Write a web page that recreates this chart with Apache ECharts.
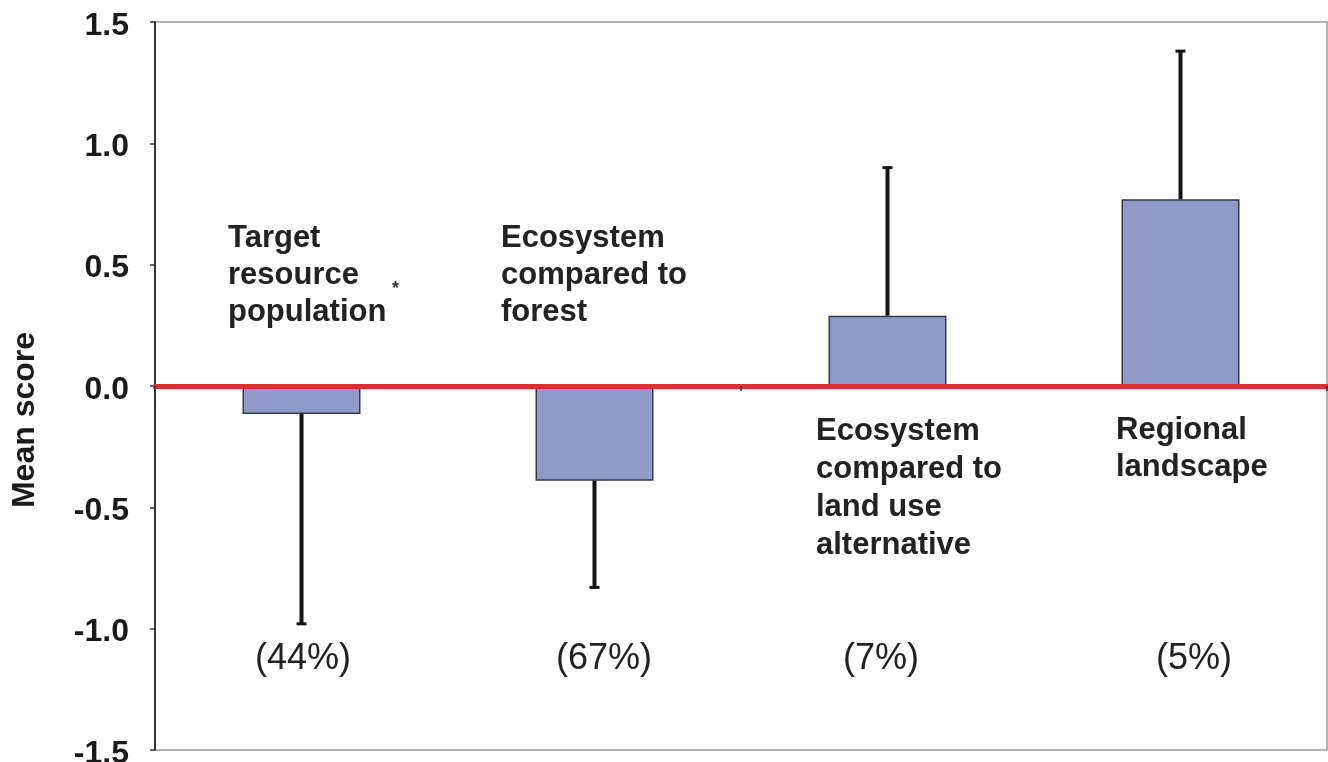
<!DOCTYPE html>
<html>
<head>
<meta charset="utf-8">
<script src="https://cdn.jsdelivr.net/npm/echarts@6/dist/echarts.min.js"></script>
<style>
html,body{margin:0;padding:0;background:#fff;}
#chart{width:1328px;height:762px;}
</style>
</head>
<body>
<div id="chart"></div>
<script>
// Data
var categories = ['Target resource population', 'Ecosystem compared to forest', 'Ecosystem compared to land use alternative', 'Regional landscape'];
var meanScores = [-0.115, -0.39, 0.29, 0.77];
var errorEnds = [-0.98, -0.83, 0.90, 1.38];
var percentLabels = ['(44%)', '(67%)', '(7%)', '(5%)'];
var yTicks = { min: -1.5, max: 1.5, interval: 0.5 };

var chart = echarts.init(document.getElementById('chart'), null, { renderer: 'canvas' });

var FONT = '"Liberation Sans", Arial, Helvetica, sans-serif';

var errData = categories.map(function (c, i) { return [i, meanScores[i], errorEnds[i]]; });

var option = {
  animation: false,
  backgroundColor: '#ffffff',
  grid: {
    left: 155, right: 1, top: 22, bottom: 12,
    containLabel: false,
    outerBoundsMode: 'none',
    show: true, borderColor: '#9a9a9a', borderWidth: 1.5, backgroundColor: 'transparent'
  },
  xAxis: {
    type: 'category',
    data: categories,
    z: 10,
    axisLine: { show: true, onZero: true, lineStyle: { color: '#d83131', width: 5 } },
    axisTick: { show: true, length: 5, lineStyle: { color: '#333', width: 1.5 } },
    axisLabel: { show: false },
    splitLine: { show: false }
  },
  yAxis: {
    type: 'value',
    min: yTicks.min, max: yTicks.max, interval: yTicks.interval,
    axisLine: { show: true, lineStyle: { color: '#333', width: 2 } },
    axisTick: { show: true, length: 5, lineStyle: { color: '#333', width: 1.5 } },
    axisLabel: {
      margin: 26,
      color: '#1a1a1a', fontFamily: FONT, fontWeight: 'bold', fontSize: 32,
      formatter: function (v) { return '{t|' + v.toFixed(1) + '}'; },
      rich: {
        t: { fontFamily: FONT, fontWeight: 'bold', fontSize: 32, color: '#1a1a1a', padding: [8, 0, 0, 0] }
      }
    },
    splitLine: { show: false }
  },
  series: [
    {
      type: 'bar',
      data: meanScores,
      barWidth: 118,
      itemStyle: { color: '#8f9ac8', borderColor: '#34364a', borderWidth: 1.5 },
      z: 2
    },
    {
      type: 'custom',
      data: errData,
      z: 5,
      renderItem: function (params, api) {
        var x = api.value(0);
        var p0 = api.coord([x, api.value(1)]);
        var p1 = api.coord([x, api.value(2)]);
        return {
          type: 'group',
          children: [
            { type: 'line', shape: { x1: p0[0], y1: p0[1], x2: p1[0], y2: p1[1] }, style: { stroke: '#141414', lineWidth: 4 } },
            { type: 'line', shape: { x1: p1[0] - 5, y1: p1[1], x2: p1[0] + 5, y2: p1[1] }, style: { stroke: '#141414', lineWidth: 3 } }
          ]
        };
      }
    }
  ],
  graphic: [
    { type: 'text', x: 25, y: 420, rotation: Math.PI / 2,
      style: { text: 'Mean score', font: 'bold 32px ' + FONT, fill: '#1a1a1a', align: 'center', verticalAlign: 'middle' } },

    { type: 'text', x: 228, y: 275,
      style: { text: 'Target\nresource\npopulation', font: 'bold 31px ' + FONT, lineHeight: 37, fill: '#222', align: 'left', verticalAlign: 'middle' } },
    { type: 'text', x: 392, y: 289,
      style: { text: '*', font: 'bold 18px ' + FONT, fill: '#333', align: 'left', verticalAlign: 'middle' } },
    { type: 'text', x: 501, y: 275,
      style: { text: 'Ecosystem\ncompared to\nforest', font: 'bold 31px ' + FONT, lineHeight: 37, fill: '#222', align: 'left', verticalAlign: 'middle' } },
    { type: 'text', x: 816, y: 488,
      style: { text: 'Ecosystem\ncompared to\nland use\nalternative', font: 'bold 31px ' + FONT, lineHeight: 38, fill: '#222', align: 'left', verticalAlign: 'middle' } },
    { type: 'text', x: 1116, y: 449,
      style: { text: 'Regional\nlandscape', font: 'bold 31px ' + FONT, lineHeight: 37, fill: '#222', align: 'left', verticalAlign: 'middle' } },

    { type: 'text', x: 303, y: 659, style: { text: percentLabels[0], font: '36px ' + FONT, fill: '#222', align: 'center', verticalAlign: 'middle' } },
    { type: 'text', x: 604, y: 659, style: { text: percentLabels[1], font: '36px ' + FONT, fill: '#222', align: 'center', verticalAlign: 'middle' } },
    { type: 'text', x: 881, y: 659, style: { text: percentLabels[2], font: '36px ' + FONT, fill: '#222', align: 'center', verticalAlign: 'middle' } },
    { type: 'text', x: 1194, y: 659, style: { text: percentLabels[3], font: '36px ' + FONT, fill: '#222', align: 'center', verticalAlign: 'middle' } }
  ]
};

chart.setOption(option);
</script>
</body>
</html>
